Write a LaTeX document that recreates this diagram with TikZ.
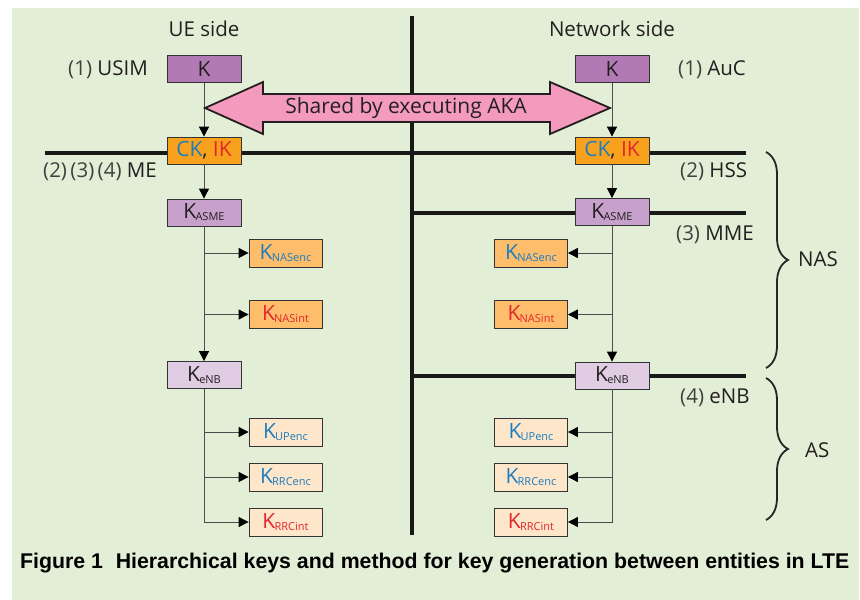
\documentclass[tikz,border=0pt]{standalone}
\usepackage{fontspec}
\setmainfont{Open Sans}
\newfontfamily\capfont{Liberation Sans}
\usetikzlibrary{arrows.meta,decorations.pathreplacing}
\definecolor{bg}{RGB}{226,239,214}
\definecolor{kcol}{RGB}{178,122,180}
\definecolor{ascol}{RGB}{199,160,203}
\definecolor{encol}{RGB}{224,205,228}
\definecolor{ckcol}{RGB}{247,161,28}
\definecolor{nascol}{RGB}{253,189,107}
\definecolor{upcol}{RGB}{254,230,202}
\definecolor{pinkc}{RGB}{244,155,189}
\definecolor{kblue}{RGB}{26,125,192}
\definecolor{kred}{RGB}{227,38,45}
\definecolor{txt}{RGB}{35,31,32}
\newcommand{\KS}[2]{\textcolor{#1}{K\kern-0.8pt\raisebox{-2pt}{\fontsize{11}{11}\selectfont #2}}}
\newcommand{\pn}[1]{{\color{black!75}(#1)}}
\begin{document}
\begin{tikzpicture}[x=1pt,y=-1pt,
  box/.style={draw=black!80, line width=0.8pt, minimum width=74pt, minimum height=27pt, inner sep=0pt, font=\fontsize{21}{21}\selectfont, text=txt},
  subbox/.style={box, minimum width=73pt, minimum height=28pt},
  conn/.style={draw=black!70, line width=0.9pt},
  arr/.style={conn, -{Triangle[length=10pt,width=10pt,color=black]}},
  bar/.style={line width=3.6pt, draw=black!90},
  lab/.style={font=\fontsize{20.5}{20.5}\selectfont, text=txt, inner sep=0pt},
  brc/.style={decorate, decoration={brace, amplitude=22pt}, line width=1.8pt, draw=black!85}
]
\useasboundingbox (0,0) rectangle (860,600);
\fill[bg] (12,8) rectangle (859,600);

% partition lines
\draw[bar] (412,16) -- (412,535);
\draw[bar] (45,153) -- (746,153);
\draw[bar] (412,213) -- (746,213);
\draw[bar] (412,376) -- (746,376);

% headings
\node[lab] (ue) at (204,29) {UE side};
\node[lab] (net) at (612,29) {Network side};

% left column
\node[box, fill=kcol] (kL) at (204,69) {K};
\node[box, fill=ckcol] (ckL) at (204,150.5) {\textcolor{kblue}{CK}, \textcolor{kred}{IK}};
\node[box, fill=ascol] (asL) at (204,212.5) {\KS{txt}{ASME}};
\node[subbox, fill=nascol] (neL) at (285.5,253) {\KS{kblue}{NASenc}};
\node[subbox, fill=nascol] (niL) at (285.5,314.5) {\KS{kred}{NASint}};
\node[box, fill=encol] (enL) at (204,375) {\KS{txt}{eNB}};
\node[subbox, fill=upcol] (upL) at (285.5,432) {\KS{kblue}{UPenc}};
\node[subbox, fill=upcol] (reL) at (285.5,477) {\KS{kblue}{RRCenc}};
\node[subbox, fill=upcol] (riL) at (285.5,522) {\KS{kred}{RRCint}};

% right column
\node[box, fill=kcol] (kR) at (612,69) {K};
\node[box, fill=ckcol] (ckR) at (612,150.5) {\textcolor{kblue}{CK}, \textcolor{kred}{IK}};
\node[box, fill=ascol] (asR) at (612,212) {\KS{txt}{ASME}};
\node[subbox, fill=nascol] (neR) at (531,253) {\KS{kblue}{NASenc}};
\node[subbox, fill=nascol] (niR) at (531,314.5) {\KS{kred}{NASint}};
\node[box, fill=encol] (enR) at (612,375.5) {\KS{txt}{eNB}};
\node[subbox, fill=upcol] (upR) at (531,432) {\KS{kblue}{UPenc}};
\node[subbox, fill=upcol] (reR) at (531,477) {\KS{kblue}{RRCenc}};
\node[subbox, fill=upcol] (riR) at (531,522) {\KS{kred}{RRCint}};

% connectors left
\draw[arr] (kL) -- (ckL);
\draw[arr] (ckL) -- (asL);
\draw[arr] (asL) -- (enL);
\draw[arr] (asL.south |- neL) -- (neL.west);
\draw[arr] (asL.south |- niL) -- (niL.west);
\draw[arr] (enL.south) |- (riL.west);
\draw[arr] (enL.south |- upL) -- (upL.west);
\draw[arr] (enL.south |- reL) -- (reL.west);

% connectors right
\draw[arr] (kR) -- (ckR);
\draw[arr] (ckR) -- (asR);
\draw[arr] (asR) -- (enR);
\draw[arr] (asR.south |- neR) -- (neR.east);
\draw[arr] (asR.south |- niR) -- (niR.east);
\draw[arr] (enR.south) |- (riR.east);
\draw[arr] (enR.south |- upR) -- (upR.east);
\draw[arr] (enR.south |- reR) -- (reR.east);

% shared arrow
\draw[fill=pinkc, draw=txt, line width=1.8pt, line join=miter]
  (205,108) -- (263,82) -- (263,94) -- (550,94) -- (550,82) -- (610,108)
  -- (550,134) -- (550,122) -- (263,122) -- (263,134) -- cycle;
\node[lab, font=\fontsize{21}{21}\selectfont] (aka) at (406,108) {Shared by executing AKA};

% entity labels
\node[lab, anchor=east] (usim) at (148,70) {\pn{1} USIM};
\node[lab, anchor=west] (me) at (43,172) {\pn{2}\,\pn{3}\,\pn{4} ME};
\node[lab, anchor=west] (auc) at (678,70) {\pn{1} AuC};
\node[lab, anchor=west] (hss) at (680,172) {\pn{2} HSS};
\node[lab, anchor=west] (mme) at (676,235) {\pn{3} MME};
\node[lab, anchor=west] (enb) at (680,398) {\pn{4} eNB};

% braces
\draw[brc] (766,152) -- (766,368);
\node[lab, anchor=west] (nas) at (798,259) {NAS};
\draw[brc] (766,378) -- (766,520);
\node[lab, anchor=west] (as) at (805,450) {AS};

% caption
\node[anchor=west, inner sep=0pt, text=black, font=\capfont\bfseries\fontsize{21.3}{21.3}\selectfont] (cap) at (20,563)
  {Figure 1\hspace{0.6em}Hierarchical keys and method for key generation between entities in LTE};
\end{tikzpicture}
\end{document}
